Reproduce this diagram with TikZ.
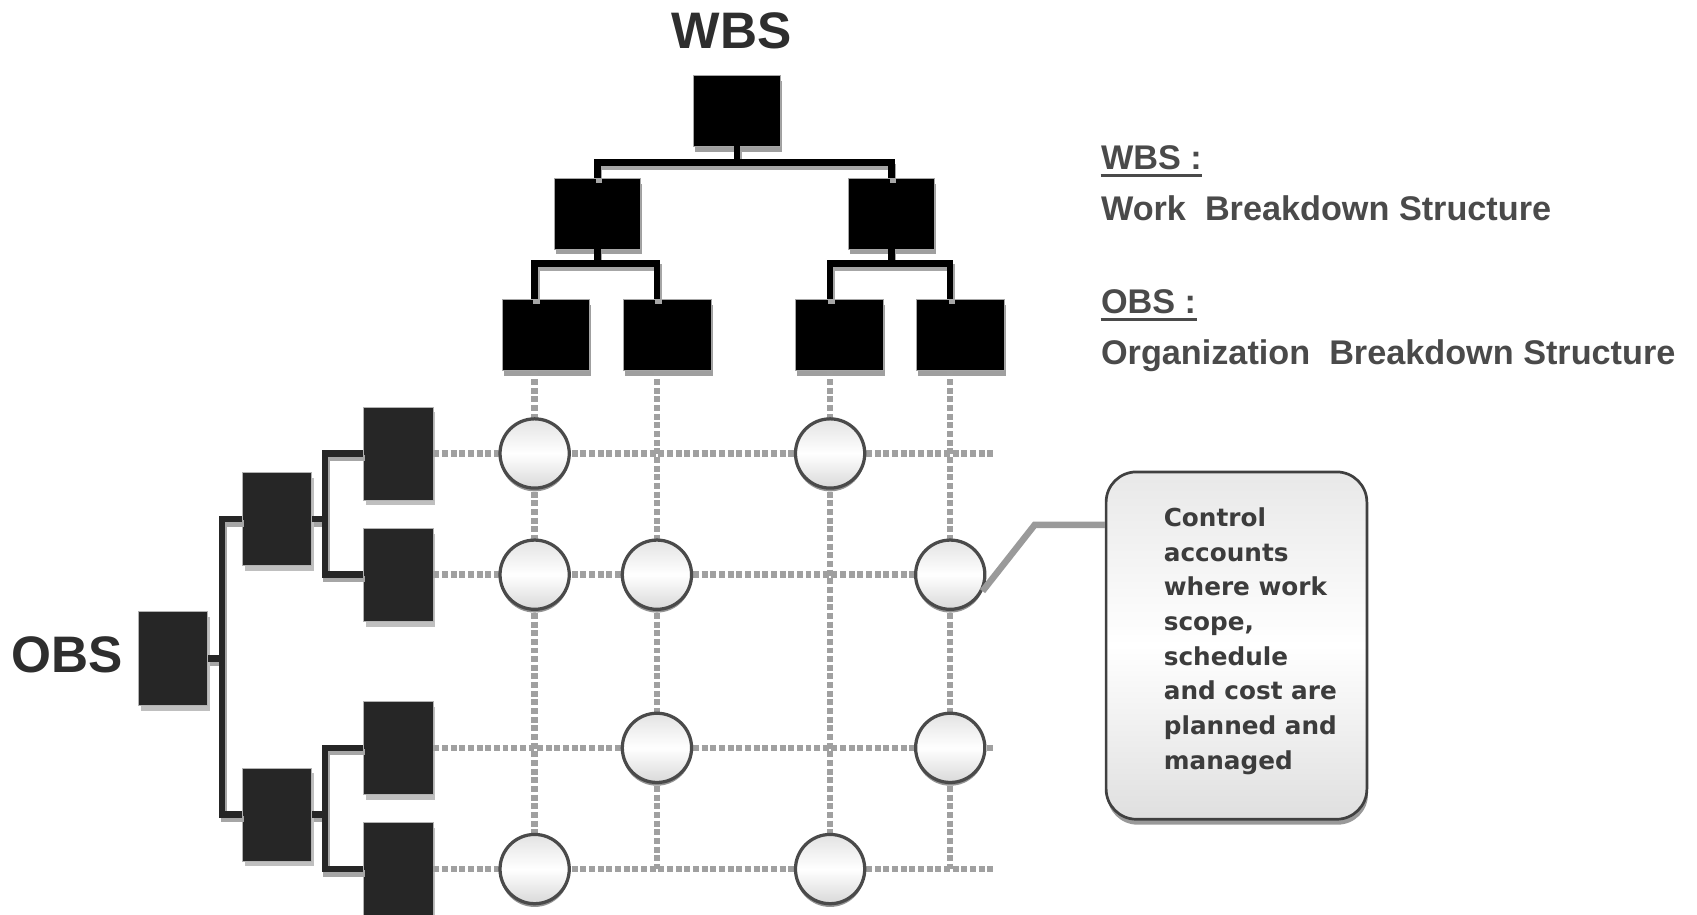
\documentclass[tikz,border=0pt]{standalone}
\usepackage{fontspec}
\setmainfont{Liberation Sans}
\newfontfamily\calfont{DejaVu Sans}
\usetikzlibrary{shadows,calc}
\definecolor{dotc}{HTML}{A0A0A0}
\definecolor{obsc}{HTML}{262626}
\definecolor{titc}{HTML}{2E2E2E}
\definecolor{legc}{HTML}{4A4A4A}
\definecolor{calc}{HTML}{3C3C3C}
\definecolor{leadc}{HTML}{9A9A9A}
\definecolor{circb}{HTML}{4A4A4A}
\definecolor{callb}{HTML}{404040}
\tikzset{
  wbox/.style={fill=black, draw=gray!70, line width=0.4pt, minimum width=1.6cm, minimum height=1.3cm, inner sep=0pt,
    drop shadow={shadow xshift=0.03cm, shadow yshift=-0.1cm, fill=gray!75, opacity=1}},
  obox/.style={fill=obsc, draw=gray!60, line width=0.4pt, minimum width=1.28cm, minimum height=1.72cm, inner sep=0pt,
    drop shadow={shadow xshift=0.04cm, shadow yshift=-0.1cm, fill=gray!50, opacity=1}},
  conn/.style={draw=black, line width=0.12cm},
  oconn/.style={draw=obsc, line width=0.12cm},
  cshadow/.style={draw=gray!70, line width=0.12cm, transform canvas={xshift=0.03cm, yshift=-0.08cm}},
  dots/.style={draw=dotc, line width=0.12cm, dash pattern=on 0.11cm off 0.05cm},
  ca/.style={circle, minimum size=1.28cm, inner sep=0pt, draw=circb, line width=0.06cm,
    top color=gray!22, bottom color=gray!30, middle color=white,
    drop shadow={shadow xshift=0cm, shadow yshift=-0.06cm, fill=gray!85, opacity=1}},
  callout/.style={rounded corners=0.56cm, minimum width=4.82cm, minimum height=6.42cm, draw=callb, line width=0.05cm,
    top color=gray!18, bottom color=gray!25, middle color=white, inner sep=0pt,
    drop shadow={shadow xshift=0.02cm, shadow yshift=-0.1cm, fill=gray!80, opacity=1}},
  ctext/.style={font=\calfont\bfseries\fontsize{13}{18.2}\selectfont, text=calc, align=left, inner sep=0pt},
  title/.style={font=\bfseries\fontsize{27}{30}\selectfont, text=titc, inner sep=0pt},
  leg/.style={font=\bfseries\fontsize{18}{22}\selectfont, text=legc, inner sep=0pt},
  lead/.style={draw=leadc, line width=0.12cm},
}
\begin{document}
\begin{tikzpicture}[x=0.02cm,y=-0.02cm]
\useasboundingbox (0,0) rectangle (1568,845);
% columns and free ends
\coordinate (col1) at (494,0);
\coordinate (col2) at (607,0);
\coordinate (col3) at (767,0);
\coordinate (col4) at (878,0);
\coordinate (r1e) at (920,419);
\coordinate (r3e) at (920,691);
\coordinate (r4e) at (920,803);
% titles
\node[title, anchor=base] (twbs) at (676,45) {WBS};
\node[title, anchor=base] (tobs) at (62,621) {OBS};
% WBS boxes
\node[wbox] (w0) at (681,102.5) {};
\node[wbox] (w1) at (552,197.5) {};
\node[wbox] (w2) at (823.5,197.5) {};
\node[wbox, minimum width=1.62cm] (w3) at (504.5,309.5) {};
\node[wbox, minimum width=1.62cm] (w4) at (616.5,309.5) {};
\node[wbox, minimum width=1.62cm] (w5) at (775.5,309.5) {};
\node[wbox, minimum width=1.62cm] (w6) at (887.5,309.5) {};
% OBS boxes
\node[obox, minimum height=1.74cm] (o0) at (160,608.5) {};
\node[obox] (o1) at (256,479.5) {};
\node[obox] (o2) at (256,752.5) {};
\node[obox] (o3) at (368,419) {};
\node[obox] (o4) at (368,531) {};
\node[obox] (o5) at (368,691) {};
\node[obox] (o6) at (368,803) {};
% WBS connectors
\foreach \s in {cshadow,conn}{
  \draw[\s] (w0.south) -- ++(0,15) -| (w1.north);
  \draw[\s] (w0.south) ++(0,15) -| (w2.north);
  \draw[\s] (w1.south) -- ++(0,13) -| (w3.north -| col1);
  \draw[\s] (w1.south) ++(0,13) -| (w4.north -| col2);
  \draw[\s] (w2.south) -- ++(0,13) -| (w5.north -| col3);
  \draw[\s] (w2.south) ++(0,13) -| (w6.north -| col4);
}
% OBS connectors
\foreach \s in {cshadow,oconn}{
  \draw[\s] (o0.east) -- ++(13,0) |- (o1.west);
  \draw[\s] (o0.east) ++(13,0) |- (o2.west);
  \draw[\s] (o1.east) -- ++(12,0) |- (o3.west);
  \draw[\s] (o1.east) ++(12,0) |- (o4.west);
  \draw[\s] (o2.east) -- ++(12,0) |- (o5.west);
  \draw[\s] (o2.east) ++(12,0) |- (o6.west);
}
% circle positions
\coordinate (p11) at (494,419);
\coordinate (p13) at (767,419);
\coordinate (p21) at (494,531);
\coordinate (p22) at (607,531);
\coordinate (p24) at (878,531);
\coordinate (p32) at (607,691);
\coordinate (p34) at (878,691);
\coordinate (p41) at (494,803);
\coordinate (p43) at (767,803);
% dotted grid
\draw[dots] (o3.east) -- (r1e);
\draw[dots] (o4.east) -- (p24);
\draw[dots] (o5.east) -- (r3e);
\draw[dots] (o6.east) -- (r4e);
\draw[dots] (w3.south -| col1) -- (p41);
\draw[dots] (w4.south -| col2) -- (col2 |- r4e);
\draw[dots] (w5.south -| col3) -- (p43);
\draw[dots] (w6.south -| col4) -- (col4 |- r4e);
% circles
\foreach \n in {11,13,21,22,24,32,34,41,43}{
  \node[ca] (k\n) at (p\n) {};
}
% callout
\node[callout] (call) at (1142.5,596.5) {};
\node[ctext, anchor=north west] (ct) at (1075,469) {Control\\accounts\\where work\\scope,\\schedule\\and cost are\\planned and\\managed};
\draw[lead] (k24.-27) -- (956,485) -- (call.west |- 0,485);
% legend
\node[leg, anchor=base west] (lw) at (1017,157) {WBS :};
\node[leg, anchor=base west] (lwt) at (1017,204) {Work\ \ Breakdown Structure};
\node[leg, anchor=base west] (lo) at (1017,290) {OBS :};
\node[leg, anchor=base west] (lot) at (1017,337) {Organization\ \ Breakdown Structure};
\draw[legc, line width=0.06cm] ([yshift=-0.1cm]lw.base west) -- ([yshift=-0.1cm]lw.base east);
\draw[legc, line width=0.06cm] ([yshift=-0.1cm]lo.base west) -- ([yshift=-0.1cm]lo.base east);
\end{tikzpicture}
\end{document}
